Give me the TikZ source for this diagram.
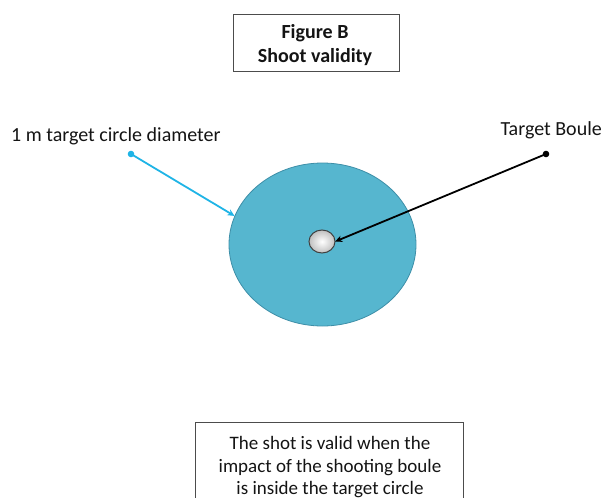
\documentclass[tikz,border=0pt]{standalone}
\usepackage{fontspec}
\setmainfont{Carlito}
\usetikzlibrary{arrows.meta,shapes.geometric}
\definecolor{disc}{HTML}{56B6CF}
\definecolor{discedge}{HTML}{3E8FA8}
\definecolor{cyanline}{HTML}{1FB4E6}
\definecolor{txt}{HTML}{141414}
\tikzset{
  lbl/.style={font=\fontsize{20}{24}\selectfont, text=txt, inner sep=0pt},
  boxed/.style={draw=black!70, line width=0.8pt, fill=white},
  conn/.style={line width=1.8pt, -{Stealth[length=7pt,width=6.5pt]}},
}
\begin{document}
\begin{tikzpicture}[x=1pt,y=-1pt]
\useasboundingbox (0,0) rectangle (603,498);
% title
\node[boxed, minimum width=166pt, minimum height=57pt] (title) at (316,42.5) {};
\node[lbl, font=\fontsize{20}{24}\selectfont\bfseries, anchor=base] (t1) at (315,38) {Figure B};
\node[lbl, font=\fontsize{20}{24}\selectfont\bfseries, anchor=base] (t2) at (315,62) {Shoot validity};
% target circle
\node[draw=discedge, line width=0.8pt, fill=disc, ellipse, minimum width=187pt, minimum height=163pt, inner sep=0pt] (circle) at (322.5,244.5) {};
% boule
\shade[inner color=white, outer color=black!25, draw=black!75, line width=1pt] (322,241.5) ellipse [x radius=13, y radius=11.5];
\node[ellipse, minimum width=26pt, minimum height=23pt, inner sep=0pt] (boule) at (322,241.5) {};
% labels
\node[lbl, anchor=base west] (lcirc) at (11,141) {1 m target circle diameter};
\node[lbl, anchor=base east] (lboule) at (602,135) {Target Boule};
% dots
\coordinate (dc) at (131,154);
\coordinate (db) at (546,154);
\fill[cyanline] (dc) circle (3.3pt);
\fill[black] (db) circle (3.3pt);
% connectors
\draw[conn, cyanline] (dc) -- (circle.162);
\draw[conn, black] (db) -- (boule.east);
% bottom box
\node[boxed, minimum width=268pt, minimum height=90pt, anchor=north] (note) at (329,422) {};
\node[lbl, font=\fontsize{19}{23}\selectfont, anchor=base] (n1) at (330,449) {The shot is valid when the};
\node[lbl, font=\fontsize{19}{23}\selectfont, anchor=base] (n2) at (330,472.5) {impact of the shooting boule};
\node[lbl, font=\fontsize{19}{23}\selectfont, anchor=base] (n3) at (330,494) {is inside the target circle};
\end{tikzpicture}
\end{document}
